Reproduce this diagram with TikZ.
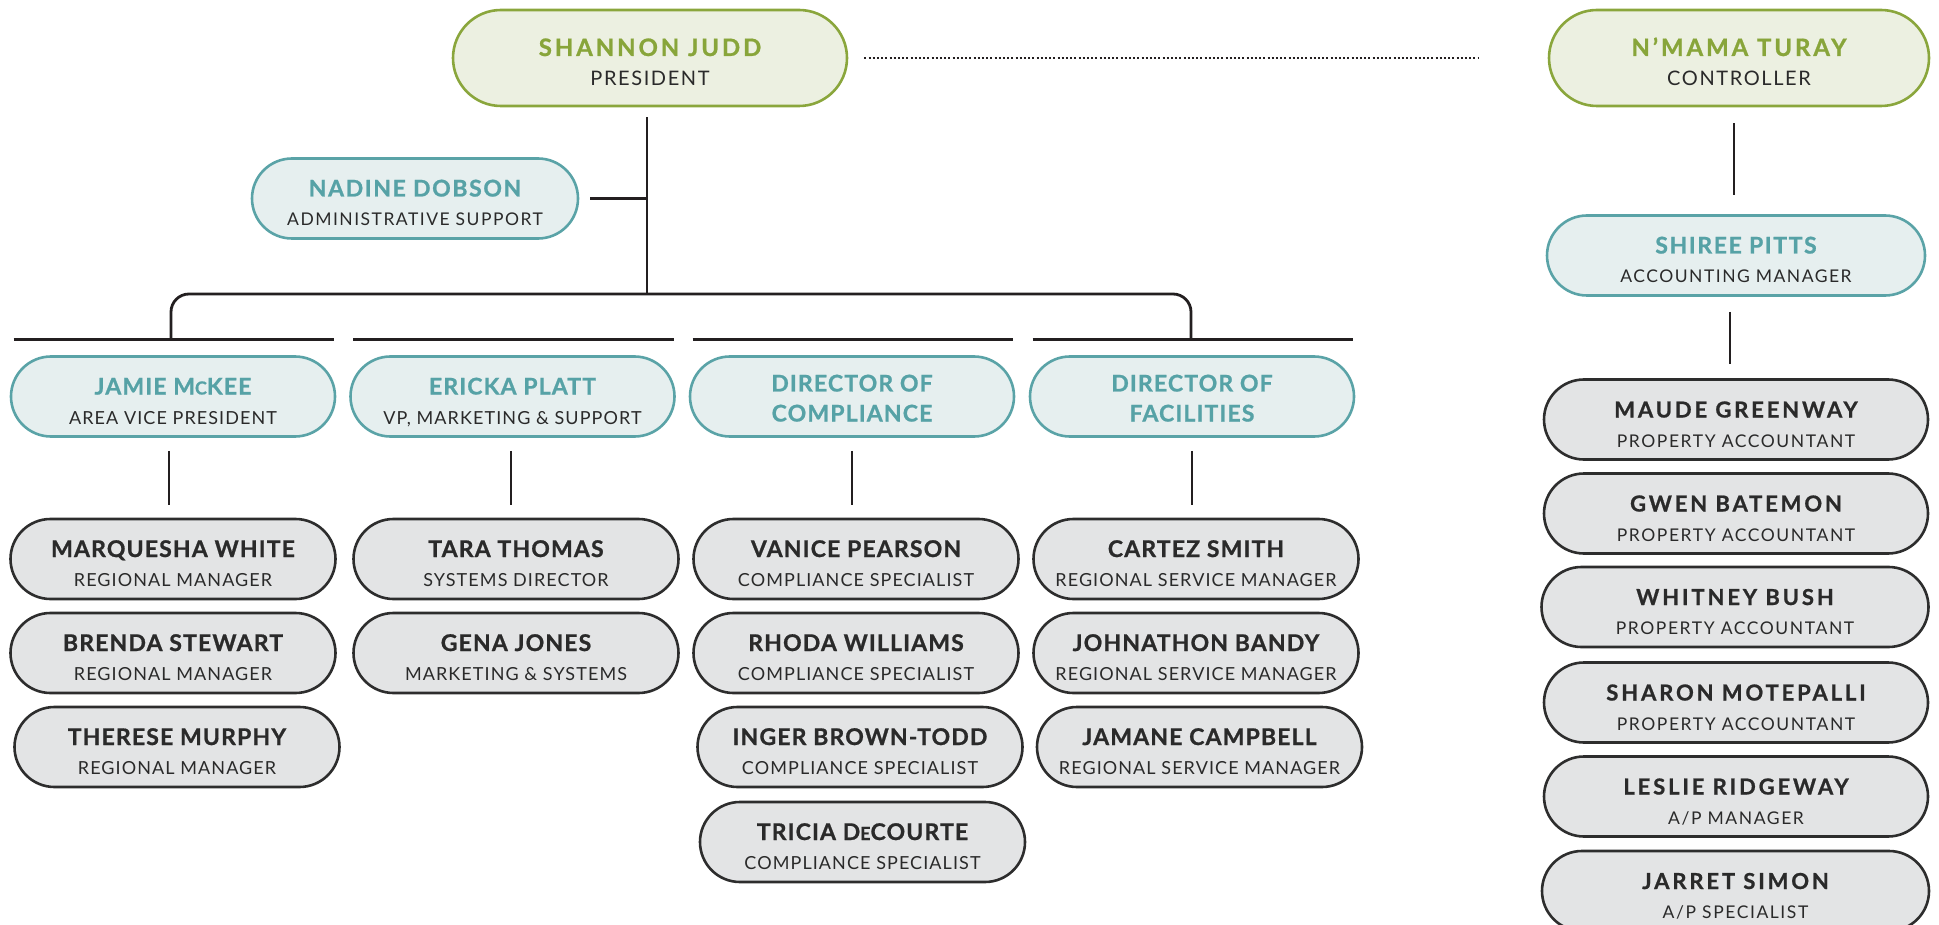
\documentclass[tikz,border=0pt]{standalone}
\usepackage{fontspec}
\setmainfont{Lato}[BoldFeatures={FakeBold=0.9}]
\usetikzlibrary{shapes.misc,calc}
\definecolor{gborder}{HTML}{8AA63C}
\definecolor{gfill}{HTML}{ECF0E1}
\definecolor{gtext}{HTML}{88A53A}
\definecolor{tborder}{HTML}{5AA3A7}
\definecolor{tfill}{HTML}{E6EFEF}
\definecolor{ttext}{HTML}{56A2A6}
\definecolor{kborder}{HTML}{2D2D2D}
\definecolor{kfill}{HTML}{E3E4E5}
\definecolor{ktext}{HTML}{2A2A2A}
\definecolor{lnk}{HTML}{231F20}
\tikzset{
  box/.style={rounded rectangle, line width=2.6pt, inner sep=0pt, minimum height=80pt},
  topbox/.style={box, draw=gborder, fill=gfill, minimum height=96pt},
  midbox/.style={box, draw=tborder, fill=tfill},
  graybox/.style={box, draw=kborder, fill=kfill},
  txt/.style={inner sep=0pt, anchor=base},
  topname/.style={txt, text=gtext, font=\bfseries\fontsize{24}{24}\selectfont\addfontfeature{LetterSpace=12}},
  toptitle/.style={txt, text=ktext, font=\fontsize{20}{20}\selectfont\addfontfeature{LetterSpace=8}},
  midname/.style={txt, text=ttext, font=\bfseries\fontsize{23}{23}\selectfont\addfontfeature{LetterSpace=7}},
  midtitle/.style={txt, text=ktext, font=\fontsize{17.5}{17.5}\selectfont\addfontfeature{LetterSpace=8.5}},
  cmidname/.style={txt, text=ttext, font=\bfseries\fontsize{23}{23}\selectfont\addfontfeature{LetterSpace=5}},
  cmidtitle/.style={txt, text=ktext, font=\fontsize{18}{18}\selectfont\addfontfeature{LetterSpace=6}},
  rgname/.style={txt, text=ktext, font=\bfseries\fontsize{22}{22}\selectfont\addfontfeature{LetterSpace=13}},
  rgtitle/.style={txt, text=ktext, font=\fontsize{17.5}{17.5}\selectfont\addfontfeature{LetterSpace=9}},
  lgname/.style={txt, text=ktext, font=\bfseries\fontsize{23}{23}\selectfont\addfontfeature{LetterSpace=5}},
  lgtitle/.style={txt, text=ktext, font=\fontsize{18}{18}\selectfont\addfontfeature{LetterSpace=6}},
  link/.style={draw=lnk, line width=2.8pt},
}
% #1 id, #2 x, #3 y, #4 width, #5 box style, #6 name style, #7 title style, #8 name, #9 title
\newcommand\pnode[9]{%
  \node[#5, minimum width=#4pt] (#1) at (#2pt,-#3pt) {};
  \node[#6] (#1-a) at ([yshift=2pt]#1.center) {#8};
  \node[#7] (#1-b) at ([yshift=-27.5pt]#1.center) {#9};
}
\begin{document}
\begin{tikzpicture}
\useasboundingbox (0,0) rectangle (1939pt,-925pt);
% top level
\pnode{shannon}{650}{58}{394}{topbox}{topname}{toptitle}{SHANNON JUDD}{PRESIDENT}
\pnode{turay}{1739}{58}{380}{topbox}{topname}{toptitle}{N’MAMA TURAY}{CONTROLLER}
\pnode{nadine}{415}{198.5}{326}{midbox}{midname}{midtitle}{NADINE DOBSON}{ADMINISTRATIVE SUPPORT}
\pnode{shiree}{1736}{255.5}{378}{midbox}{midname}{midtitle}{SHIREE PITTS}{ACCOUNTING MANAGER}
% department heads
\pnode{jamie}{173}{396.5}{324}{midbox}{cmidname}{cmidtitle}{JAMIE M{\fontsize{18}{18}\selectfont C}KEE}{AREA VICE PRESIDENT}
\pnode{ericka}{512.5}{396.5}{324}{midbox}{cmidname}{cmidtitle}{ERICKA PLATT}{VP, MARKETING \& SUPPORT}
\node[midbox, minimum width=324pt] (comp) at (852pt,-396.5pt) {};
\node[cmidname] (comp-a) at ([yshift=5pt]comp.center) {DIRECTOR OF};
\node[cmidname] (comp-b) at ([yshift=-25pt]comp.center) {COMPLIANCE};
\node[midbox, minimum width=324pt] (fac) at (1192pt,-396.5pt) {};
\node[cmidname] (fac-a) at ([yshift=5pt]fac.center) {DIRECTOR OF};
\node[cmidname] (fac-b) at ([yshift=-25pt]fac.center) {FACILITIES};
% left gray
\pnode{marq}{173}{559}{325}{graybox}{lgname}{lgtitle}{MARQUESHA WHITE}{REGIONAL MANAGER}
\pnode{brenda}{173}{653}{325}{graybox}{lgname}{lgtitle}{BRENDA STEWART}{REGIONAL MANAGER}
\pnode{therese}{177}{747}{325}{graybox}{lgname}{lgtitle}{THERESE MURPHY}{REGIONAL MANAGER}
\pnode{tara}{516}{559}{325}{graybox}{lgname}{lgtitle}{TARA THOMAS}{SYSTEMS DIRECTOR}
\pnode{gena}{516}{653}{325}{graybox}{lgname}{lgtitle}{GENA JONES}{MARKETING \& SYSTEMS}
\pnode{vanice}{856}{559}{325}{graybox}{lgname}{lgtitle}{VANICE PEARSON}{COMPLIANCE SPECIALIST}
\pnode{rhoda}{856}{653}{325}{graybox}{lgname}{lgtitle}{RHODA WILLIAMS}{COMPLIANCE SPECIALIST}
\pnode{inger}{860}{747}{325}{graybox}{lgname}{lgtitle}{INGER BROWN-TODD}{COMPLIANCE SPECIALIST}
\pnode{tricia}{862.5}{842}{325}{graybox}{lgname}{lgtitle}{TRICIA D{\fontsize{18}{18}\selectfont E}COURTE}{COMPLIANCE SPECIALIST}
\pnode{cartez}{1196}{559}{325}{graybox}{lgname}{lgtitle}{CARTEZ SMITH}{REGIONAL SERVICE MANAGER}
\pnode{johnathon}{1196}{653}{325}{graybox}{lgname}{lgtitle}{JOHNATHON BANDY}{REGIONAL SERVICE MANAGER}
\pnode{jamane}{1199.5}{747}{325}{graybox}{lgname}{lgtitle}{JAMANE CAMPBELL}{REGIONAL SERVICE MANAGER}
% right gray
\pnode{maude}{1736}{419.5}{384}{graybox}{rgname}{rgtitle}{MAUDE GREENWAY}{PROPERTY ACCOUNTANT}
\pnode{gwen}{1736}{513.5}{384}{graybox}{rgname}{rgtitle}{GWEN BATEMON}{PROPERTY ACCOUNTANT}
\pnode{whitney}{1735}{607}{387}{graybox}{rgname}{rgtitle}{WHITNEY BUSH}{PROPERTY ACCOUNTANT}
\pnode{sharon}{1736}{702.5}{384}{graybox}{rgname}{rgtitle}{SHARON MOTEPALLI}{PROPERTY ACCOUNTANT}
\pnode{leslie}{1736}{796.5}{384}{graybox}{rgname}{rgtitle}{LESLIE RIDGEWAY}{A/P MANAGER}
\pnode{jarret}{1735.5}{891}{387}{graybox}{rgname}{rgtitle}{JARRET SIMON}{A/P SPECIALIST}
% connectors
\coordinate (hub) at (647pt,-294pt);
\draw[lnk, line width=2pt, dash pattern=on 2pt off 2.2pt] ([xshift=16pt]shannon.east) -- ([xshift=-69pt]turay.west);
\draw[link] ([xshift=-3pt,yshift=-10pt]shannon.south) -- (hub);
\draw[link] ([xshift=11pt]nadine.east) -- (nadine.east -| hub);
\draw[link, rounded corners=18pt] ($(jamie.north)+(-2pt,16pt)$) |- (hub) -| ($(fac.north)+(-1pt,16pt)$);
\foreach \d in {jamie,ericka,comp,fac}{
  \draw[link] ($(\d.west |- \d.north)+(4pt,16pt)$) -- ($(\d.east |- \d.north)+(-2pt,16pt)$);
}
\draw[link, shorten <=13pt, shorten >=13pt] ([xshift=-4pt]jamie.south) -- ([xshift=-4pt]jamie.south |- marq.north);
\draw[link, shorten <=13pt, shorten >=13pt] ([xshift=-1.5pt]ericka.south) -- ([xshift=-1.5pt]ericka.south |- tara.north);
\draw[link, shorten <=13pt, shorten >=13pt] (comp.south) -- (comp.south |- vanice.north);
\draw[link, shorten <=13pt, shorten >=13pt] (fac.south) -- (fac.south |- cartez.north);
\draw[link, shorten <=16pt, shorten >=19pt] ([xshift=-5pt]turay.south) -- ([xshift=-5pt]turay.south |- shiree.north);
\draw[link, shorten <=15pt, shorten >=14.5pt] ([xshift=-6pt]shiree.south) -- ([xshift=-6pt]shiree.south |- maude.north);
\end{tikzpicture}
\end{document}
